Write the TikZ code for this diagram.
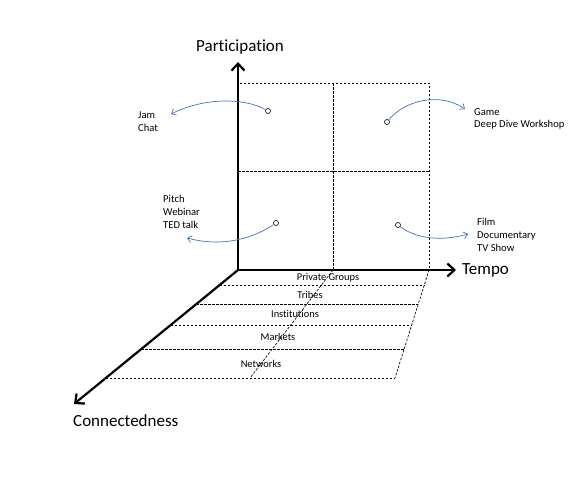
\documentclass[tikz,border=0pt]{standalone}
\usepackage{fontspec}
\setmainfont{Carlito}[Ligatures=NoCommon]
\usepackage{xcolor}
\usetikzlibrary{arrows.meta,calc}
\definecolor{LinkBlue}{HTML}{4A6FB5}

\begin{document}
\begin{tikzpicture}[x=1pt,y=-1pt,
  every node/.style={font=\fontsize{10.6}{12.8}\selectfont,align=left,inner sep=0pt},
  axis/.style={line width=2.2pt,-{Straight Barb[length=7pt,width=13pt]}},
  grid/.style={dash pattern=on 2.5pt off 1.5pt,line width=0.65pt},
  dot/.style={circle,draw,line width=0.6pt,minimum size=5pt},
  link/.style={-{Straight Barb[length=4pt,width=7pt]},line width=0.7pt,draw=LinkBlue},
  axislabel/.style={font=\fontsize{17}{20}\selectfont},
  layer/.style={font=\fontsize{10.4}{12}\selectfont,align=center}
]
\useasboundingbox (0,0) rectangle (583,483);
% axes
\coordinate (origin) at (238,270);
\coordinate (ptip) at (238,62);
\coordinate (ttip) at (456,270);
\coordinate (ctip) at (74,404);
% quadrant grid
\draw[grid] (238,83) rectangle (429,270);
\draw[grid] (333,83) -- (333,270);
\draw[grid] (238,171) -- (429,171);
% layers of the base plane
\foreach \y in {285,304,325,349,378}
  \draw[grid] ({238-(\y-270)*1.224},\y) -- ({429-(\y-270)*0.315},\y);
\draw[grid] (429,270) -- (395,378);
\draw[grid] (333,270) -- (250,378);
\draw[axis] (origin) -- (ptip);
\draw[axis] (origin) -- (ttip);
\draw[axis] (origin) -- (ctip);
\node[axislabel] (part) at (240,47) {Participation};
\node[axislabel,anchor=west] (tempo) at (462,270) {Tempo};
\node[axislabel,anchor=west] (conn) at (73,421) {Connectedness};
\node[layer] (private) at (328,278) {Private Groups};
\node[layer] (tribes) at (310,295) {Tribes};
\node[layer] (inst) at (295,314) {Institutions};
\node[layer] (markets) at (278,337) {Markets};
\node[layer] (networks) at (261,364) {Networks};
% formats per quadrant
\node[dot] (jamdot) at (268,111) {};
\node[dot] (gamedot) at (387,122) {};
\node[dot] (pitchdot) at (276,223) {};
\node[dot] (filmdot) at (398,225) {};
\node[anchor=west] (jam) at (138,122) {Jam\\Chat};
\node[anchor=west] (game) at (474,119) {Game\\Deep Dive Workshop};
\node[anchor=west] (pitch) at (163,212) {Pitch\\Webinar\\TED talk};
\node[anchor=west] (film) at (477,235) {Film\\Documentary\\TV Show};
\coordinate (jamtip) at (171,114);
\coordinate (gametip) at (465,109);
\coordinate (pitchtip) at (187,238);
\coordinate (filmtip) at (468,234);
\draw[link] (jamdot) .. controls (245,98) and (205,97) .. (jamtip);
\draw[link] (gamedot) .. controls (405,100) and (440,92) .. (gametip);
\draw[link] (pitchdot) .. controls (255,237) and (225,248) .. (pitchtip);
\draw[link] (filmdot) .. controls (415,238) and (440,242) .. (filmtip);
\end{tikzpicture}
\end{document}
